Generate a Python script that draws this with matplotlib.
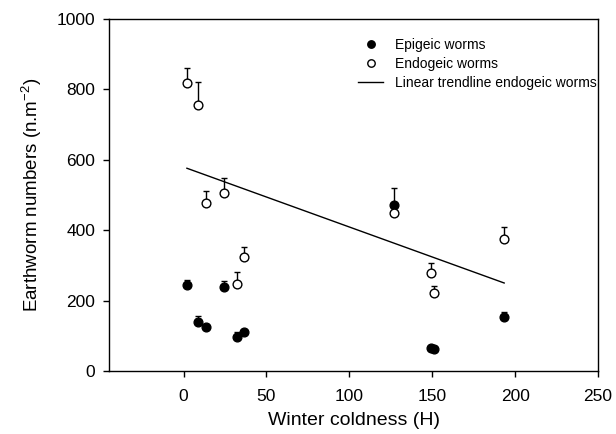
import matplotlib
matplotlib.use('Agg')
from matplotlib import pyplot as plt

plt.rcParams['font.family'] = ['Liberation Sans', 'DejaVu Sans']

# epigeic worms (filled)
epi_x = [2, 8.6, 13.3, 24.1, 32.5, 36.7, 127, 149.2, 151.2, 193.4]
epi_y = [243, 140, 126, 239, 96, 112, 472, 66, 62, 152]
epi_err = [15, 17, 0, 18, 16, 0, 47, 0, 0, 15]

# endogeic worms (open)
endo_x = [2, 8.6, 13.3, 24.1, 32.5, 36.7, 127, 149.2, 151.2, 193.4]
endo_y = [817, 757, 476, 505, 247, 324, 448, 279, 222, 375]
endo_err = [43, 63, 36, 42, 33, 27, 0, 27, 20, 33]

# linear trendline endogeic worms
trend_x = [2, 193.4]
trend_y = [576, 250]

fig = plt.figure(figsize=(6.16, 4.34), dpi=100)
ax = fig.add_axes([109/616, 1-371/434, (598-109)/616, (371-19)/434])

ax.errorbar(epi_x, epi_y, yerr=[[0]*len(epi_err), epi_err], fmt='none',
            ecolor='black', elinewidth=1, capsize=2.5, capthick=1, zorder=2)
ax.errorbar(endo_x, endo_y, yerr=[[0]*len(endo_err), endo_err], fmt='none',
            ecolor='black', elinewidth=1, capsize=2.5, capthick=1, zorder=2)
ax.plot(epi_x, epi_y, 'o', color='black', markersize=6.3, zorder=3,
        label='Epigeic worms')
ax.plot(endo_x, endo_y, 'o', markerfacecolor='white', markeredgecolor='black',
        markeredgewidth=1, markersize=6.3, zorder=3, label='Endogeic worms')
ax.plot(trend_x, trend_y, '-', color='black', linewidth=1, zorder=1,
        label='Linear trendline endogeic worms')

ax.set_xlim(-45, 250)
ax.set_ylim(0, 1000)
ax.set_xticks([0, 50, 100, 150, 200, 250])
ax.set_yticks([0, 200, 400, 600, 800, 1000])
ax.tick_params(direction='out', length=4, width=1, labelsize=12.5, top=False, right=False)
ax.tick_params(axis='x', pad=9)
ax.tick_params(axis='y', pad=6)
for s in ax.spines.values():
    s.set_linewidth(1)

ax.set_xlabel('Winter coldness (H)', fontsize=14, labelpad=6)
ax.set_ylabel(r'Earthworm numbers (n.m$^{\mathregular{-2}}$)', fontsize=13.5, labelpad=9)

ax.legend(loc='upper right', bbox_to_anchor=(1.0, 0.95), frameon=False,
          fontsize=10, handlelength=1.8, handletextpad=0.85, labelspacing=0.36,
          borderaxespad=0, borderpad=0.1, markerscale=0.85)

fig.savefig('out.png', dpi=100)
